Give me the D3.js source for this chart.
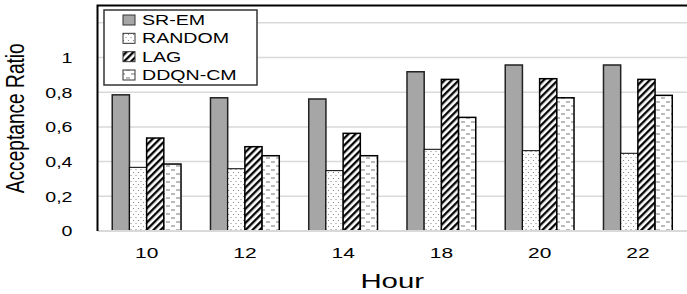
<!DOCTYPE html>
<html>
<head>
<meta charset="utf-8">
<script src="https://cdn.jsdelivr.net/npm/d3@7"></script>
<style>
    body { margin: 0; background: #fff; }
    text { font-family: "Liberation Sans", Arial, sans-serif; fill: #000; }
</style>
</head>
<body>
<div id="chart"></div>
<script>
// Data
const hours = ['10', '12', '14', '18', '20', '22'];
const seriesNames = ['SR-EM', 'RANDOM', 'LAG', 'DDQN-CM'];
const srem = [0.785, 0.768, 0.761, 0.918, 0.957, 0.957];
const random = [0.367, 0.359, 0.348, 0.471, 0.463, 0.448];
const lag = [0.536, 0.486, 0.563, 0.874, 0.878, 0.874];
const ddqn = [0.386, 0.434, 0.434, 0.655, 0.768, 0.782];
const yTickValues = [0, 0.2, 0.4, 0.6, 0.8, 1];
const gridValues = [0.2, 0.4, 0.6, 0.8, 1, 1.2];

// Configuration
const config = {
    width: 687,
    height: 294,
    margin: { top: 5.5, right: 0, bottom: 63, left: 97.5 },
    stretch: 1.4   // the reference is stretched horizontally
};

const values = [srem, random, lag, ddqn];
const fills = ['#a6a6a6', 'url(#dots)', 'url(#hatch)', 'url(#dashes)'];

const svg = d3.select('#chart')
    .append('svg')
    .attr('width', config.width)
    .attr('height', config.height);

// Patterns
const defs = svg.append('defs');

const dots = defs.append('pattern')
    .attr('id', 'dots')
    .attr('patternUnits', 'userSpaceOnUse')
    .attr('width', 5).attr('height', 6);
dots.append('rect').attr('width', 5).attr('height', 6).attr('fill', '#fff');
dots.append('circle').attr('cx', 1).attr('cy', 1.5).attr('r', 0.6).attr('fill', '#777');
dots.append('circle').attr('cx', 3.5).attr('cy', 4.5).attr('r', 0.6).attr('fill', '#777');

const hatch = defs.append('pattern')
    .attr('id', 'hatch')
    .attr('patternUnits', 'userSpaceOnUse')
    .attr('width', 5).attr('height', 5)
    .attr('patternTransform', 'rotate(45)');
hatch.append('rect').attr('width', 5).attr('height', 5).attr('fill', '#fff');
hatch.append('line')
    .attr('x1', 1.2).attr('y1', 0).attr('x2', 1.2).attr('y2', 5)
    .attr('stroke', '#000').attr('stroke-width', 2.3);

const dashes = defs.append('pattern')
    .attr('id', 'dashes')
    .attr('patternUnits', 'userSpaceOnUse')
    .attr('width', 10).attr('height', 8);
dashes.append('rect').attr('width', 10).attr('height', 8).attr('fill', '#fff');
dashes.append('line')
    .attr('x1', 1).attr('y1', 2).attr('x2', 5).attr('y2', 2)
    .attr('stroke', '#777').attr('stroke-width', 1);
dashes.append('line')
    .attr('x1', 6).attr('y1', 6).attr('x2', 10).attr('y2', 6)
    .attr('stroke', '#777').attr('stroke-width', 1);

// Scales
const x0 = d3.scaleBand()
    .domain(hours)
    .range([config.margin.left, config.width - config.margin.right])
    .paddingInner(0.3)
    .paddingOuter(0.15);

const x1 = d3.scaleBand()
    .domain(seriesNames)
    .range([0, x0.bandwidth()]);

const y = d3.scaleLinear()
    .domain([0, 1.3])
    .range([config.height - config.margin.bottom, config.margin.top]);

const plotLeft = config.margin.left;
const plotRight = config.width - config.margin.right;

// Grid lines
svg.append('g')
    .selectAll('line')
    .data(gridValues)
    .enter()
    .append('line')
    .attr('x1', plotLeft)
    .attr('x2', plotRight)
    .attr('y1', d => y(d))
    .attr('y2', d => y(d))
    .attr('stroke', '#d9d9d9')
    .attr('stroke-width', 1.5);

// Bars
seriesNames.forEach((name, s) => {
    svg.append('g')
        .selectAll('rect')
        .data(values[s])
        .enter()
        .append('rect')
        .attr('x', (d, i) => x0(hours[i]) + x1(name))
        .attr('y', d => y(d))
        .attr('width', x1.bandwidth())
        .attr('height', d => y(0) - y(d))
        .attr('fill', fills[s])
        .attr('stroke', s === 0 ? '#222' : '#000')
        .attr('stroke-width', s === 1 ? 1 : 1.5);
});

// X axis baseline
svg.append('line')
    .attr('x1', plotLeft)
    .attr('x2', plotRight)
    .attr('y1', y(0))
    .attr('y2', y(0))
    .attr('stroke', '#d9d9d9')
    .attr('stroke-width', 2);

// Left and top border
svg.append('path')
    .attr('d', `M${plotLeft},${y(0)}V${y(1.3)}H${plotRight}`)
    .attr('fill', 'none')
    .attr('stroke', '#000')
    .attr('stroke-width', 2);

// Axes
const xAxis = svg.append('g')
    .attr('transform', `translate(0,${y(0)})`)
    .call(d3.axisBottom(x0).tickSize(0));
xAxis.select('.domain').remove();
xAxis.selectAll('text')
    .attr('y', 0)
    .attr('dy', '0.35em')
    .attr('transform', `translate(0,22) scale(${config.stretch},1)`)
    .attr('x', function () { return 0; })
    .style('font-size', '15px')
    .style('font-family', '"Liberation Sans", Arial, sans-serif')
    .attr('fill', '#000');
// keep ticks centred after scaling
xAxis.selectAll('.tick text')
    .attr('text-anchor', 'middle');

const yAxis = svg.append('g')
    .attr('transform', `translate(${plotLeft},0)`)
    .call(d3.axisLeft(y)
        .tickValues(yTickValues)
        .tickSize(0)
        .tickFormat(d => d3.format('.1~f')(d).replace('.', ',')));
yAxis.select('.domain').remove();
yAxis.selectAll('text')
    .attr('x', 0)
    .attr('dy', '0.35em')
    .attr('transform', `translate(-25,0) scale(${config.stretch},1)`)
    .style('font-size', '14px')
    .style('font-family', '"Liberation Sans", Arial, sans-serif')
    .attr('fill', '#000');

// Axis titles
svg.append('text')
    .attr('transform', `translate(${(plotLeft + plotRight) / 2},${281}) scale(${config.stretch},1)`)
    .attr('text-anchor', 'middle')
    .attr('dy', '0.35em')
    .style('font-size', '21px')
    .text('Hour');

svg.append('text')
    .attr('transform', `translate(24,${(y(0) + y(1.3)) / 2}) scale(${config.stretch},1) rotate(-90)`)
    .attr('text-anchor', 'middle')
    .attr('textLength', 150)
    .attr('lengthAdjust', 'spacingAndGlyphs')
    .style('font-size', '19px')
    .text('Acceptance Ratio');

// Legend
const legend = svg.append('g');
legend.append('rect')
    .attr('x', 104)
    .attr('y', 10)
    .attr('width', 153)
    .attr('height', 75)
    .attr('fill', '#fff')
    .attr('stroke', '#333')
    .attr('stroke-width', 1.5);

const legendY = d3.scalePoint()
    .domain(seriesNames)
    .range([20, 75]);

seriesNames.forEach((name, s) => {
    legend.append('rect')
        .attr('x', 123)
        .attr('y', legendY(name) - 5)
        .attr('width', 12)
        .attr('height', 10)
        .attr('fill', fills[s])
        .attr('stroke', '#333')
        .attr('stroke-width', 1);
    legend.append('text')
        .attr('transform', `translate(142,${legendY(name)}) scale(${config.stretch},1)`)
        .attr('dy', '0.35em')
        .style('font-size', '14px')
        .text(name);
});
</script>
</body>
</html>
